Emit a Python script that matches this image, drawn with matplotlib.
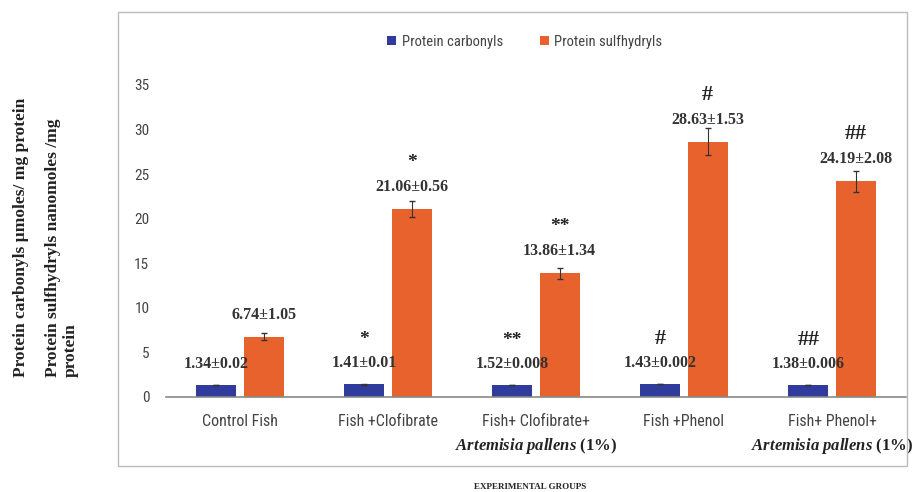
import matplotlib
matplotlib.use("Agg")
import matplotlib.pyplot as plt
import matplotlib.transforms as mtransforms
from matplotlib import font_manager
from matplotlib.patches import Rectangle
import numpy as np

categories = ["Control Fish", "Fish +Clofibrate", "Fish+ Clofibrate+", "Fish +Phenol", "Fish+ Phenol+"]
second_line = ["", "", r"$\mathit{Artemisia\ pallens}$ (1%)", "", r"$\mathit{Artemisia\ pallens}$ (1%)"]
carbonyl = [1.34, 1.41, 1.32, 1.43, 1.38]
carbonyl_err = [0.02, 0.01, 0.008, 0.002, 0.006]
carbonyl_lbl = ["1.34±0.02", "1.41±0.01", "1.52±0.008", "1.43±0.002", "1.38±0.006"]
sulf = [6.74, 21.06, 13.86, 28.63, 24.19]
sulf_err = [0.4, 0.9, 0.6, 1.5, 1.2]
sulf_lbl = ["6.74±1.05", "21.06±0.56", "13.86±1.34", "28.63±1.53", "24.19±2.08"]
sig = ["", "*", "**", "#", "##"]
yticks = [0, 5, 10, 15, 20, 25, 30, 35]

available = {f.name for f in font_manager.fontManager.ttflist}
narrow = next((n for n in ['Liberation Sans Narrow', 'Roboto Condensed', 'DejaVu Sans Condensed',
                           'Liberation Sans'] if n in available), 'DejaVu Sans')

plt.rcParams['font.family'] = ['Liberation Serif', 'DejaVu Serif']
plt.rcParams['mathtext.fontset'] = 'custom'
plt.rcParams['mathtext.it'] = 'Liberation Serif:italic:bold'
plt.rcParams['mathtext.rm'] = 'Liberation Serif:bold'

blue = "#2F3C9B"
orange = "#E8622D"

fig = plt.figure(figsize=(9.2, 4.92), dpi=100)
ax = fig.add_axes([166/920, 1-397/492, 740/920, (397-85)/492])

x = np.arange(len(categories))
w = 0.27
off = 0.16
b1 = ax.bar(x - off, carbonyl, w, color=blue, label="Protein carbonyls",
            yerr=carbonyl_err, error_kw=dict(ecolor="#333333", capsize=2, lw=0.8))
b2 = ax.bar(x + off, sulf, w, color=orange, label="Protein sulfhydryls",
            yerr=sulf_err, error_kw=dict(ecolor="#333333", capsize=2, lw=0.8))

ax.set_xlim(-0.5, len(categories) - 0.5)
ax.set_ylim(0, 35)
ax.set_yticks(yticks)
ax.set_xticks(x)
ax.set_xticklabels(categories, fontsize=11.5, color="#444444", family=[narrow, 'DejaVu Sans'])
for t in ax.get_yticklabels():
    t.set_family([narrow, 'DejaVu Sans'])
ax.tick_params(axis='both', length=0)
ax.tick_params(axis='x', pad=12)
ax.tick_params(axis='y', pad=12, labelsize=11, labelcolor="#444444")
for s in ['left', 'top', 'right']:
    ax.spines[s].set_visible(False)
ax.spines['bottom'].set_color("#888888")
ax.spines['bottom'].set_linewidth(1.2)

trans = mtransforms.blended_transform_factory(ax.transData, ax.transAxes)
for i, t in enumerate(second_line):
    if t:
        ax.text(i, -49/312, t, transform=trans, ha='center', va='center',
                fontsize=12, fontweight='bold', color="#222222")

for i in range(len(categories)):
    ax.annotate(carbonyl_lbl[i], (x[i] - off, carbonyl[i]), xytext=(0, 21),
                textcoords='offset pixels', ha='center', va='center',
                fontsize=11.5, fontweight='bold', color="#333333")
    ax.annotate(sulf_lbl[i], (x[i] + off, sulf[i]), xytext=(0, 22),
                textcoords='offset pixels', ha='center', va='center',
                fontsize=11.5, fontweight='bold', color="#333333")
    if sig[i]:
        fs = 14 if "*" in sig[i] else 16
        ax.annotate(sig[i], (x[i] - off, carbonyl[i]), xytext=(0, 45),
                    textcoords='offset pixels', ha='center', va='center',
                    fontsize=fs, fontweight='bold', color="#222222")
        ax.annotate(sig[i], (x[i] + off, sulf[i]), xytext=(0, 47),
                    textcoords='offset pixels', ha='center', va='center',
                    fontsize=fs, fontweight='bold', color="#222222")

leg = fig.legend(handles=[b1, b2], loc='center', bbox_to_anchor=(525/920, 1-42/492),
                 ncol=2, frameon=False, prop={'family': [narrow, 'DejaVu Sans'], 'size': 10.5},
                 handlelength=0.6, handleheight=0.6, columnspacing=2.5, handletextpad=0.4)
for t in leg.get_texts():
    t.set_color("#444444")

fig.patches.append(Rectangle((118/920, 1-466/492), (907-118)/920, (466-12)/492,
                             transform=fig.transFigure, fill=False,
                             edgecolor="#bbbbbb", linewidth=1))

fig.text(21/920, 1-377/492, "Protein carbonyls µmoles/ mg protein", rotation=90,
         ha='center', va='bottom', fontsize=12.5, fontweight='bold', color="#222222")
fig.text(62/920, 1-377/492, "Protein sulfhydryls nanomoles /mg\nprotein", rotation=90,
         ha='center', va='bottom', multialignment='left', fontsize=12.5,
         fontweight='bold', color="#222222", linespacing=1.15)

fig.text(530/920, 1-487/492, "EXPERIMENTAL GROUPS", ha='center', va='center',
         fontsize=6.5, fontweight='bold', color="#222222")

fig.savefig("out.png", dpi=100)
